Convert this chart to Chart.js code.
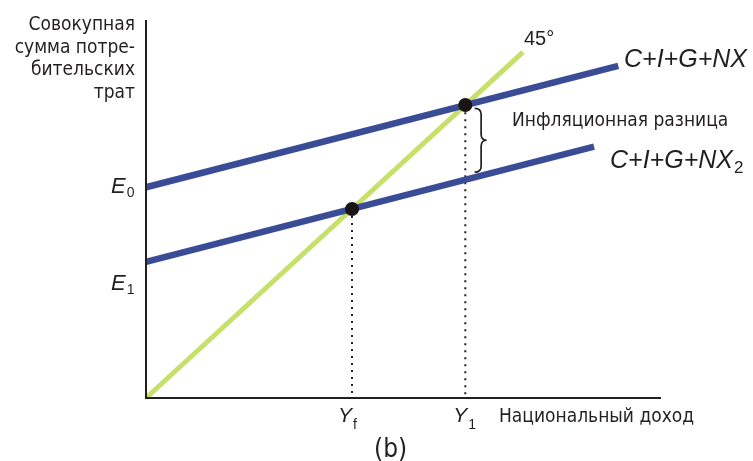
<!DOCTYPE html>
<html>
<head>
<meta charset="utf-8">
<script src="https://cdn.jsdelivr.net/npm/chart.js@4.4.1/dist/chart.umd.min.js"></script>
<style>
    html, body { margin: 0; padding: 0; background: #ffffff; }
    #wrap { width: 753px; height: 461px; }
</style>
</head>
<body>
<div id="wrap"><canvas id="myChart" width="753" height="461"></canvas></div>
<script>
// 45 degree line (Y = AE)
var line45X = [0, 73.2];
var line45Y = [0, 73.2];
// C+I+G+NX
var aeX = [0, 91.7];
var aeY = [44.6, 70.3];
// C+I+G+NX2
var ae2X = [0, 87];
var ae2Y = [28.8, 53.2];
// equilibrium points (Yf, Y1)
var eqX = [40, 62];
var eqY = [40, 62];
// tick labels
var xTickVals = [40, 62];
var xTickMain = ['Y', 'Y'];
var xTickSub = ['f', '1'];
var yTickVals = [44.6, 28.8];
var yTickMain = ['E', 'E'];
var yTickSub = ['0', '1'];
var yTitle = ['Совокупная', 'сумма потре-', 'бительских', 'трат'];
var xTitle = 'Национальный доход';

var ink = '#231f20';
var blue = '#3b4c97';
var green = '#c6e06a';
var body = '19px "DejaVu Sans Condensed", "DejaVu Sans"';
var italic = '"Liberation Sans", Arial, sans-serif';

function toPoints(xs, ys) {
    var pts = [];
    for (var i = 0; i < xs.length; i++) {
        pts.push({ x: xs[i], y: ys[i] });
    }
    return pts;
}

function drawSub(ctx, main, sub, x, y, mainFont, subFont, subDy) {
    ctx.font = mainFont;
    ctx.fillText(main, x, y);
    var w = ctx.measureText(main).width;
    ctx.font = subFont;
    ctx.fillText(sub, x + w + 1, y + subDy);
}

var annotations = {
    id: 'annotations',
    afterDraw: function (chart) {
        var ctx = chart.ctx;
        var xs = chart.scales.x;
        var ys = chart.scales.y;
        var area = chart.chartArea;
        ctx.save();

        // axes
        ctx.strokeStyle = ink;
        ctx.lineWidth = 2;
        ctx.beginPath();
        ctx.moveTo(xs.getPixelForValue(0), area.top);
        ctx.lineTo(xs.getPixelForValue(0), ys.getPixelForValue(0));
        ctx.lineTo(area.right, ys.getPixelForValue(0));
        ctx.stroke();

        // brace
        var bx = xs.getPixelForValue(64.2);
        var by1 = ys.getPixelForValue(61.3);
        var by2 = ys.getPixelForValue(47.8);
        var bm = (by1 + by2) / 2;
        var bw = 10;
        ctx.lineWidth = 1.7;
        ctx.beginPath();
        ctx.moveTo(bx - 2, by1);
        ctx.quadraticCurveTo(bx + bw * 0.45, by1, bx + bw * 0.45, by1 + 6);
        ctx.lineTo(bx + bw * 0.45, bm - 6);
        ctx.quadraticCurveTo(bx + bw * 0.45, bm, bx + bw, bm);
        ctx.quadraticCurveTo(bx + bw * 0.45, bm, bx + bw * 0.45, bm + 6);
        ctx.lineTo(bx + bw * 0.45, by2 - 6);
        ctx.quadraticCurveTo(bx + bw * 0.45, by2, bx - 2, by2);
        ctx.stroke();

        ctx.fillStyle = ink;
        ctx.textBaseline = 'alphabetic';

        // y title
        ctx.font = body;
        ctx.textAlign = 'right';
        for (var i = 0; i < yTitle.length; i++) {
            ctx.fillText(yTitle[i], 135, 30 + i * 22.7);
        }
        ctx.textAlign = 'left';

        // y tick labels
        var yOff = [6, 28];
        for (var i = 0; i < yTickVals.length; i++) {
            var py = ys.getPixelForValue(yTickVals[i]) + yOff[i];
            drawSub(ctx, yTickMain[i], yTickSub[i], 111, py,
                'italic 22px ' + italic, '14px ' + italic, 4);
        }

        // x tick labels
        for (var i = 0; i < xTickVals.length; i++) {
            var px = xs.getPixelForValue(xTickVals[i]) - 14 + i * 2;
            drawSub(ctx, xTickMain[i], xTickSub[i], px, 422,
                'italic 21px ' + italic, '14px ' + italic, 7);
        }

        ctx.font = body;
        ctx.fillText(xTitle, 499, 422);
        ctx.fillText('Инфляционная разница', 512, 126);

        ctx.font = '20px ' + italic;
        ctx.fillText('45°', 524, 45);

        ctx.font = 'italic 25px ' + italic;
        ctx.fillText('C+I+G+NX', 624, 67);
        drawSub(ctx, 'C+I+G+NX', '2', 610, 168,
            'italic 25px ' + italic, '17px ' + italic, 5);

        ctx.font = '26px "DejaVu Sans Condensed", "DejaVu Sans"';
        ctx.fillText('(b)', 374, 457);
        ctx.restore();
    }
};

var ctx = document.getElementById('myChart').getContext('2d');
var myChart = new Chart(ctx, {
    type: 'scatter',
    data: {
        datasets: [{
            label: 'points',
            data: toPoints(eqX, eqY),
            pointRadius: 7,
            pointBackgroundColor: '#1a1412',
            pointBorderWidth: 0,
            showLine: false,
            order: 0
        }, {
            label: 'Yf',
            data: toPoints([eqX[0], eqX[0]], [eqY[0] - 1.5, 0]),
            showLine: true,
            borderColor: ink,
            borderWidth: 2,
            borderDash: [2, 5],
            pointRadius: 0,
            order: 3
        }, {
            label: 'Y1',
            data: toPoints([eqX[1], eqX[1]], [eqY[1] - 1.5, 0]),
            showLine: true,
            borderColor: ink,
            borderWidth: 2,
            borderDash: [2, 5],
            pointRadius: 0,
            order: 3
        }, {
            label: 'C+I+G+NX',
            data: toPoints(aeX, aeY),
            showLine: true,
            borderColor: blue,
            borderWidth: 6.5,
            pointRadius: 0,
            order: 1
        }, {
            label: 'C+I+G+NX2',
            data: toPoints(ae2X, ae2Y),
            showLine: true,
            borderColor: blue,
            borderWidth: 6.5,
            pointRadius: 0,
            order: 1
        }, {
            label: '45',
            data: toPoints(line45X, line45Y),
            showLine: true,
            borderColor: green,
            borderWidth: 5,
            pointRadius: 0,
            order: 2
        }]
    },
    options: {
        responsive: false,
        animation: false,
        devicePixelRatio: 1,
        events: [],
        clip: false,
        layout: {
            padding: { left: 146, right: 92, top: 20, bottom: 63 }
        },
        scales: {
            x: { type: 'linear', min: 0, max: 100, display: false },
            y: { type: 'linear', min: 0, max: 80, display: false }
        },
        plugins: {
            legend: { display: false },
            tooltip: { enabled: false }
        }
    },
    plugins: [annotations]
});
</script>
</body>
</html>
